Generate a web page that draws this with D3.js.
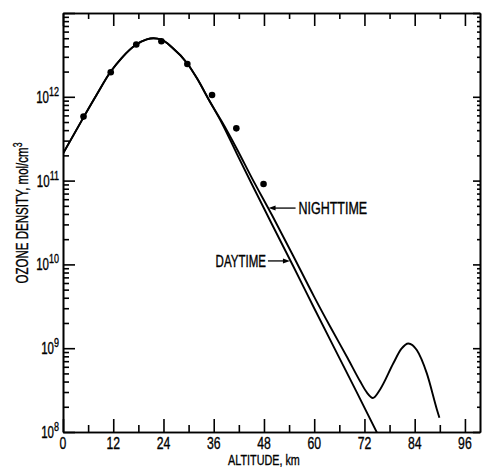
<!DOCTYPE html>
<html>
<head>
<meta charset="utf-8">
<script src="https://cdn.jsdelivr.net/npm/d3@7"></script>
<style>
  body { margin: 0; background: white; }
  text { font-family: "Liberation Sans", Arial, sans-serif; fill: #000; stroke: #000; stroke-width: 0.35; }
</style>
</head>
<body>
<div id="container"></div>
<script>
let w = 482;
let h = 467;

// altitude (km) and ozone density (mol/cm3)
let dayAltitude = [0, 5, 8, 11.4, 14, 17.5, 20, 21.6, 23.5, 26, 29.7, 32, 35, 38, 41.5, 45, 50, 55, 60, 65, 70, 75];
let dayDensity = [2.1e11, 5.8e11, 1.05e12, 2.0e12, 2.9e12, 4.2e12, 4.85e12, 5.0e12, 4.8e12, 3.9e12, 2.5e12, 1.66e12, 8.9e11, 4.8e11, 2.1e11, 9.3e10, 2.95e10, 9.5e9, 3.0e9, 9.6e8, 3.1e8, 9.8e7];

let nightAltitude = [0, 5, 8, 11.4, 14, 17.5, 20, 21.6, 23.5, 26, 29.7, 32, 35, 38, 41.5, 45, 50, 55, 60, 64, 68, 71, 72.6, 74, 75.7, 78.9, 80.8, 82.5, 84.5, 86.9, 89.3, 89.9];
let nightDensity = [2.1e11, 5.8e11, 1.05e12, 2.0e12, 2.9e12, 4.2e12, 4.85e12, 5.0e12, 4.8e12, 3.9e12, 2.5e12, 1.66e12, 8.9e11, 5.0e11, 2.4e11, 1.1e11, 3.8e10, 1.26e10, 4.1e9, 1.74e9, 7.6e8, 4.0e8, 2.95e8, 2.55e8, 3.2e8, 6.6e8, 9.8e8, 1.14e9, 9.5e8, 5.0e8, 1.86e8, 1.48e8];

// measured points (dots)
let pointAltitude = [4.9, 11.4, 17.5, 23.5, 29.7, 35.6, 41.4, 47.9];
let pointDensity = [5.8e11, 1.96e12, 4.2e12, 4.6e12, 2.46e12, 1.05e12, 4.2e11, 9.1e10];

// ticks
let xMajorTicks = [0, 12, 24, 36, 48, 60, 72, 84, 96];
let xMinorTicks = [6, 18, 30, 42, 54, 66, 78, 90];
let yExponents = [8, 9, 10, 11, 12];
let yMajorTicks = [1e8, 1e9, 1e10, 1e11, 1e12, 1e13];
let yMinorTicks = [];
for (let e = 8; e < 13; e++) {
  for (let m = 2; m <= 9; m++) {
    yMinorTicks.push(m * Math.pow(10, e));
  }
}

let viz = d3.select("#container")
  .append("svg")
    .attr("width", w)
    .attr("height", h)
    .style("background-color", "white")
;

let xScale = d3.scaleLinear().domain([0, 99.6]).range([63, 480]);
let yScale = d3.scaleLog().domain([1e8, 1e13]).range([432, 13]);

let squeeze = 0.72; // condensed type

function styleAxis(g){
  g.attr("color", "#000");
  g.selectAll("path, line").attr("stroke-width", 1.6);
  g.selectAll("text").remove();
}

// bottom
viz.append("g").attr("transform", "translate(0,432)")
  .call(d3.axisBottom(xScale).tickValues(xMajorTicks).tickSizeInner(-13).tickSizeOuter(0).tickFormat(""))
  .call(styleAxis);
viz.append("g").attr("transform", "translate(0,432)")
  .call(d3.axisBottom(xScale).tickValues(xMinorTicks).tickSizeInner(-7).tickSizeOuter(0).tickFormat(""))
  .call(styleAxis);
// top
viz.append("g").attr("transform", "translate(0,13)")
  .call(d3.axisTop(xScale).tickValues(xMajorTicks).tickSizeInner(-13).tickSizeOuter(0).tickFormat(""))
  .call(styleAxis);
viz.append("g").attr("transform", "translate(0,13)")
  .call(d3.axisTop(xScale).tickValues(xMinorTicks).tickSizeInner(-6).tickSizeOuter(0).tickFormat(""))
  .call(styleAxis);
// left
viz.append("g").attr("transform", "translate(63,0)")
  .call(d3.axisLeft(yScale).tickValues(yMajorTicks).tickSizeInner(-12).tickSizeOuter(0).tickFormat(""))
  .call(styleAxis);
viz.append("g").attr("transform", "translate(63,0)")
  .call(d3.axisLeft(yScale).tickValues(yMinorTicks).tickSizeInner(-6).tickSizeOuter(0).tickFormat(""))
  .call(styleAxis);
// right
viz.append("g").attr("transform", "translate(480,0)")
  .call(d3.axisRight(yScale).tickValues(yMajorTicks).tickSizeInner(-7).tickSizeOuter(0).tickFormat(""))
  .call(styleAxis);
viz.append("g").attr("transform", "translate(480,0)")
  .call(d3.axisRight(yScale).tickValues(yMinorTicks).tickSizeInner(-3).tickSizeOuter(0).tickFormat(""))
  .call(styleAxis);

// x tick labels
viz.selectAll(".xlabel").data(xMajorTicks).enter()
  .append("text")
    .attr("class", "xlabel")
    .attr("transform", d => "translate(" + xScale(d) + ",449) scale(" + squeeze + ",1)")
    .attr("text-anchor", "middle")
    .attr("font-size", 17)
    .text(d => d)
;

// y tick labels 10^n
let ylabels = viz.selectAll(".ylabel").data(yExponents).enter()
  .append("text")
    .attr("class", "ylabel")
    .attr("transform", d => "translate(59," + (yScale(Math.pow(10, d)) + 6) + ") scale(" + squeeze + ",1)")
    .attr("text-anchor", "end")
;
ylabels.append("tspan").attr("font-size", 16).text("10");
ylabels.append("tspan").attr("font-size", 12.5).attr("dy", -7).text(d => d);

// axis titles
viz.append("text")
  .attr("transform", "translate(" + xScale(48) + ",465) scale(" + squeeze + ",1)")
  .attr("text-anchor", "middle")
  .attr("font-size", 15)
  .text("ALTITUDE, km");

let ytitle = viz.append("text")
  .attr("transform", "translate(28,213) rotate(-90) scale(" + squeeze + ",1)")
  .attr("text-anchor", "middle")
  .attr("font-size", 16);
ytitle.append("tspan").text("OZONE DENSITY, mol/cm");
ytitle.append("tspan").attr("font-size", 12).attr("dy", -6).text("3");

// clip to plot box
viz.append("clipPath").attr("id", "plotclip")
  .append("rect")
    .attr("x", xScale(0)).attr("y", yScale(1e13))
    .attr("width", xScale(99.6) - xScale(0))
    .attr("height", yScale(1e8) - yScale(1e13));

let line = d3.line()
  .x(d => xScale(d[0]))
  .y(d => yScale(d[1]))
  .curve(d3.curveMonotoneX);

let dayData = dayAltitude.map((a, i) => [a, dayDensity[i]]);
let nightData = nightAltitude.map((a, i) => [a, nightDensity[i]]);

viz.append("path").datum(dayData)
  .attr("d", line)
  .attr("fill", "none").attr("stroke", "#000").attr("stroke-width", 1.9)
  .attr("clip-path", "url(#plotclip)");
viz.append("path").datum(nightData)
  .attr("d", line)
  .attr("fill", "none").attr("stroke", "#000").attr("stroke-width", 1.9)
  .attr("clip-path", "url(#plotclip)");

// dots
viz.selectAll(".dot").data(pointAltitude).enter()
  .append("circle")
    .attr("class", "dot")
    .attr("cx", d => xScale(d))
    .attr("cy", (d, i) => yScale(pointDensity[i]))
    .attr("r", 3.3)
    .attr("fill", "#000");

// annotations with arrows
function arrow(x1, y, x2){
  let dir = x2 > x1 ? 1 : -1;
  viz.append("line")
    .attr("x1", x1).attr("y1", y).attr("x2", x2 - dir * 5).attr("y2", y)
    .attr("stroke", "#000").attr("stroke-width", 1.3);
  viz.append("path")
    .attr("d", "M" + x2 + "," + y + " L" + (x2 - dir * 7) + "," + (y - 2.5) + " L" + (x2 - dir * 7) + "," + (y + 2.5) + " Z")
    .attr("fill", "#000");
}

let nightTipX = xScale(49.1), nightTipY = yScale(4.7e10);
arrow(nightTipX + 27, nightTipY, nightTipX);
viz.append("text")
  .attr("transform", "translate(" + (nightTipX + 30) + "," + (nightTipY + 6) + ") scale(0.78,1)")
  .attr("font-size", 16)
  .text("NIGHTTIME");

let dayTipX = xScale(54.2), dayTipY = yScale(1.1e10);
arrow(dayTipX - 22, dayTipY, dayTipX);
viz.append("text")
  .attr("transform", "translate(" + (dayTipX - 24) + "," + (dayTipY + 6) + ") scale(" + squeeze + ",1)")
  .attr("text-anchor", "end")
  .attr("font-size", 16)
  .text("DAYTIME");
</script>
</body>
</html>
